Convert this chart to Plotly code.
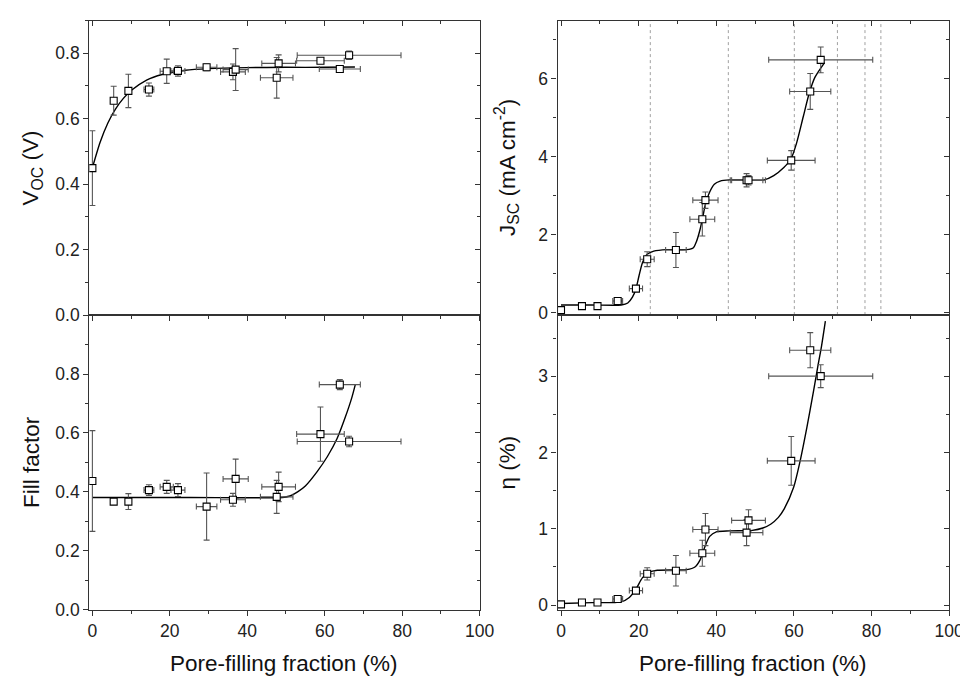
import plotly.graph_objects as go

# ---------------- data ----------------
pff_left = [0, 5.5, 9.3, 14.6, 19.2, 22.1, 29.5, 36.3, 37.0, 47.6, 48.1, 58.9, 63.9, 66.3]
pff_right = [0, 5.4, 9.4, 14.6, 19.3, 22.2, 29.6, 36.4, 37.2, 47.8, 48.3, 59.3, 64.2, 66.9]
pff_err = [0, 0, 0, 1.27, 1.7, 1.8, 2.65, 3.2, 3.25, 4.2, 4.35, 6.15, 5.3, 13.4]

voc = [0.449, 0.655, 0.685, 0.689, 0.745, 0.746, 0.757, 0.743, 0.750, 0.725, 0.769, 0.777, 0.752, 0.794]
voc_err = [0.114, 0.044, 0.051, 0.02, 0.037, 0.016, 0.01, 0.024, 0.064, 0.062, 0.026, 0.008, 0.008, 0.013]

ff = [0.437, 0.367, 0.367, 0.406, 0.417, 0.406, 0.350, 0.373, 0.444, 0.383, 0.417, 0.596, 0.764, 0.571]
ff_err = [0.171, 0, 0.027, 0.018, 0.022, 0.022, 0.114, 0.022, 0.067, 0.056, 0.05, 0.092, 0.017, 0.018]

jsc = [0.068, 0.17, 0.17, 0.30, 0.62, 1.375, 1.61, 2.40, 2.89, 3.40, 3.40, 3.91, 5.68, 6.49]
jsc_err = [0, 0.03, 0.03, 0.05, 0.05, 0.19, 0.45, 0.43, 0.21, 0.17, 0.12, 0.25, 0.46, 0.33]

eta = [0.01, 0.034, 0.034, 0.08, 0.19, 0.41, 0.45, 0.68, 0.99, 0.95, 1.11, 1.89, 3.34, 3.00]
eta_err = [0, 0.01, 0.01, 0.02, 0.03, 0.08, 0.2, 0.17, 0.21, 0.17, 0.14, 0.32, 0.23, 0.15]

# fitted curves
voc_fit_x = [0, 2, 4, 6, 8, 10, 14, 18, 24, 30, 40, 50, 60, 67.8]
voc_fit_y = [0.450, 0.528, 0.587, 0.630, 0.662, 0.686, 0.718, 0.735, 0.748, 0.753, 0.756, 0.757, 0.757, 0.758]

ff_fit_x = [0, 25, 49, 51, 53, 55, 58, 60.7, 63.2, 65.3, 67, 67.9]
ff_fit_y = [0.381, 0.381, 0.381, 0.386, 0.400, 0.420, 0.468, 0.52, 0.581, 0.653, 0.72, 0.764]

jsc_fit_x = [0, 8, 15.5, 17.2, 18.4, 19.3, 20.1, 21.0, 22.2, 23.9, 27.3, 32.4, 34.1, 34.9, 35.8,
             36.5, 37.2, 38.3, 39.5, 41.0, 43.4, 52.3, 54.8, 57.4, 59.2, 60.7, 62.4, 63.9, 65.4, 67.9]
jsc_fit_y = [0.20, 0.20, 0.20, 0.25, 0.40, 0.61, 0.95, 1.29, 1.50, 1.58, 1.62, 1.62, 1.67, 1.83, 2.13,
             2.45, 2.78, 3.10, 3.30, 3.38, 3.41, 3.41, 3.52, 3.73, 3.94, 4.36, 5.03, 5.62, 6.04, 6.42]

eta_fit_x = [0, 8, 15.5, 17.6, 19.3, 21.0, 22.7, 24.8, 32.4, 34.5, 35.8, 37.1, 38.3, 40.0, 43.4,
             49.3, 52, 54, 56, 57.5, 59.9, 61.6, 63.3, 65.0, 66.2, 67.1, 68.1]
eta_fit_y = [0.022, 0.032, 0.043, 0.10, 0.21, 0.36, 0.43, 0.456, 0.465, 0.50, 0.59, 0.77, 0.90, 0.96, 0.973,
             0.98, 1.01, 1.06, 1.15, 1.26, 1.54, 1.89, 2.32, 2.79, 3.14, 3.39, 3.72]

dash_x = [23.0, 43.1, 60.1, 71.2, 78.3, 82.4]

x_ticks = [0, 20, 40, 60, 80, 100]
voc_ticks = [0.0, 0.2, 0.4, 0.6, 0.8]
ff_ticks = [0.0, 0.2, 0.4, 0.6, 0.8]
jsc_ticks = [0, 2, 4, 6]
eta_ticks = [0, 1, 2, 3]

titles = {
    "voc": "V<sub>OC</sub> (V)",
    "ff": "Fill factor",
    "jsc": "J<sub>SC</sub> (mA cm<sup>-2</sup>)",
    "eta": "η (%)",
    "x": "Pore-filling fraction (%)",
}

# ---------------- figure ----------------
W, H = 968, 678
FONT = "Liberation Sans, Arial, Helvetica, sans-serif"
AX = "#333333"
ERR = "#555555"

xdomL = [80.7 / W, 478.0 / W]
xdomR = [557.3 / W, 956.0 / W]
ydomT = [1 - 311.7 / H, 1 - 12.7 / H]
ydomB = [1 - 610.7 / H, 1 - 311.7 / H]

panels = [
    (1, pff_left, voc, voc_err, voc_fit_x, voc_fit_y, xdomL, ydomT, [-0.8, 100], [0, 0.9], voc_ticks, 0.1, False, ".1f"),
    (2, pff_right, jsc, jsc_err, jsc_fit_x, jsc_fit_y, xdomR, ydomT, [-0.9, 100], [-0.06, 7.5], jsc_ticks, 1, False, "d"),
    (3, pff_left, ff, ff_err, ff_fit_x, ff_fit_y, xdomL, ydomB, [-0.8, 100], [0, 1.0], ff_ticks, 0.1, True, ".1f"),
    (4, pff_right, eta, eta_err, eta_fit_x, eta_fit_y, xdomR, ydomB, [-0.9, 100], [-0.06, 3.8], eta_ticks, 0.5, True, "d"),
]

fig = go.Figure()


def ref(prefix, i):
    return prefix if i == 1 else f"{prefix}{i}"


layout = {}
for (i, xs, ys, ey, fx, fy, xdom, ydom, xr, yr, yt, mdy, xlab, yfmt) in panels:
    xa, ya = ref("x", i), ref("y", i)
    xo, yo = f"x{i + 4}", f"y{i + 4}"

    fig.add_trace(go.Scatter(
        x=fx, y=fy, mode="lines", xaxis=xa, yaxis=ya,
        line=dict(color="black", width=1.4, shape="spline", smoothing=0.7),
        showlegend=False, hoverinfo="skip"))
    fig.add_trace(go.Scatter(
        x=xs, y=ys, mode="markers", xaxis=xa, yaxis=ya,
        marker=dict(symbol="square", size=7, color="white", line=dict(color="black", width=1.1)),
        error_y=dict(type="data", array=ey, color=ERR, thickness=1.1, width=3),
        error_x=dict(type="data", array=pff_err, color=ERR, thickness=1.1, width=3),
        showlegend=False))
    fig.add_trace(go.Scatter(x=[], y=[], xaxis=xo, yaxis=ya, showlegend=False, hoverinfo="skip"))
    fig.add_trace(go.Scatter(x=[], y=[], xaxis=xa, yaxis=yo, showlegend=False, hoverinfo="skip"))

    common = dict(showline=True, linecolor=AX, linewidth=1.2, showgrid=False, zeroline=False,
                  tickwidth=1.2, tickcolor=AX, fixedrange=True)
    tickfont = dict(family=FONT, size=17.5, color="#222222")

    layout[ref("xaxis", i)] = dict(
        domain=xdom, anchor=ya, range=xr, tickmode="array", tickvals=x_ticks,
        ticks="outside", ticklen=5, showticklabels=xlab, tickfont=tickfont,
        minor=dict(ticks="outside", ticklen=3, tickwidth=1.2, tickcolor=AX, dtick=10, tick0=0),
        **common)
    layout[ref("yaxis", i)] = dict(
        domain=ydom, anchor=xa, range=yr, tickmode="array", tickvals=yt,
        ticktext=[format(v, yfmt) if yfmt != "d" else str(int(v)) for v in yt],
        ticks="outside", ticklen=5, tickfont=tickfont,
        minor=dict(ticks="outside", ticklen=3, tickwidth=1.2, tickcolor=AX, dtick=mdy, tick0=0),
        **common)
    layout[f"xaxis{i + 4}"] = dict(
        overlaying=xa, anchor=ya, side="top", range=xr, tickmode="array", tickvals=x_ticks,
        ticks="inside", ticklen=5, showticklabels=False,
        minor=dict(ticks="inside", ticklen=3, tickwidth=1.2, tickcolor=AX, dtick=10, tick0=0),
        **common)
    layout[f"yaxis{i + 4}"] = dict(
        overlaying=ya, anchor=xa, side="right", range=yr, tickmode="array", tickvals=yt,
        ticks="inside", ticklen=5, showticklabels=False,
        minor=dict(ticks="inside", ticklen=3, tickwidth=1.2, tickcolor=AX, dtick=mdy, tick0=0),
        **common)

shapes = []
for xv in dash_x:
    shapes.append(dict(type="line", xref="x2", yref="y2 domain", x0=xv, x1=xv, y0=0, y1=1,
                       line=dict(color="#a0a0a0", width=1, dash="3px,3px"), layer="below"))

tf = dict(family=FONT, size=22.5, color="#111111")
annotations = [
    dict(text=titles["voc"], x=22 / W, y=sum(ydomT) / 2, textangle=-90),
    dict(text=titles["ff"], x=22 / W, y=sum(ydomB) / 2, textangle=-90),
    dict(text=titles["jsc"], x=506 / W, y=sum(ydomT) / 2, textangle=-90),
    dict(text=titles["eta"], x=506 / W, y=sum(ydomB) / 2, textangle=-90),
    dict(text=titles["x"], x=sum(xdomL) / 2, y=1 - 665 / H),
    dict(text=titles["x"], x=sum(xdomR) / 2, y=1 - 665 / H),
]
for a in annotations:
    a.update(xref="paper", yref="paper", showarrow=False, font=tf, xanchor="center", yanchor="middle")

fig.update_layout(
    width=W, height=H, margin=dict(l=0, r=0, t=0, b=0),
    paper_bgcolor="white", plot_bgcolor="white",
    font=dict(family=FONT, color="#222222"),
    shapes=shapes, annotations=annotations, showlegend=False,
    **layout)

fig.write_html("out.html")
